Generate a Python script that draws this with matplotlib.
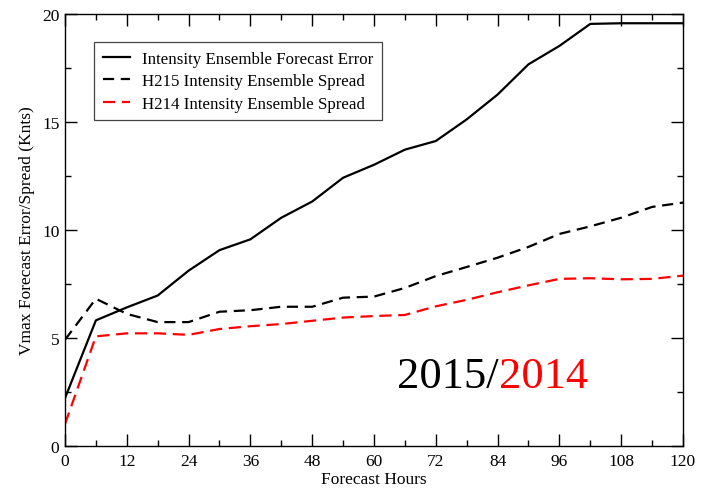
import matplotlib

matplotlib.use("Agg")
import matplotlib.pyplot as plt
from matplotlib.ticker import MultipleLocator

# forecast lead times (hours)
hours = [0, 6, 12, 18, 24, 30, 36, 42, 48, 54, 60, 66, 72, 78, 84, 90, 96, 102, 108, 114, 120]

# intensity ensemble forecast error (kt)
fcst_error = [2.2, 5.8, 6.4, 6.95, 8.1, 9.05, 9.55, 10.55, 11.3, 12.4, 13.0, 13.7, 14.1,
              15.1, 16.25, 17.65, 18.5, 19.52, 19.55, 19.55, 19.55]

# H215 ensemble spread (kt)
spread_h215 = [4.9, 6.8, 6.1, 5.72, 5.72, 6.2, 6.27, 6.43, 6.43, 6.85, 6.9, 7.3, 7.85,
               8.27, 8.7, 9.2, 9.8, 10.15, 10.55, 11.05, 11.25]

# H214 ensemble spread (kt)
spread_h214 = [1.0, 5.06, 5.2, 5.2, 5.13, 5.4, 5.53, 5.63, 5.78, 5.93, 6.0, 6.05, 6.45,
               6.75, 7.1, 7.42, 7.72, 7.75, 7.7, 7.72, 7.87]

plt.rcParams["font.family"] = ["Liberation Serif", "DejaVu Serif"]

fig = plt.figure(figsize=(7.11, 4.89), dpi=100)
ax = fig.add_axes([0.0914, 0.0865, 0.8692, 0.8838])

ax.plot(hours, fcst_error, color="black", lw=1.6, label="Intensity Ensemble Forecast Error")
ax.plot(hours, spread_h215, color="black", lw=1.6, dashes=(5, 3),
        label="H215 Intensity Ensemble Spread")
ax.plot(hours, spread_h214, color="red", lw=1.6, dashes=(5.5, 3),
        label="H214 Intensity Ensemble Spread")

ax.set_xlim(0, 120)
ax.set_ylim(0, 20)
ax.xaxis.set_major_locator(MultipleLocator(12))
ax.xaxis.set_minor_locator(MultipleLocator(6))
ax.yaxis.set_major_locator(MultipleLocator(5))
ax.yaxis.set_minor_locator(MultipleLocator(2.5))
ax.tick_params(which="both", direction="in", top=True, right=True, width=1,
               labelsize=12.5)
ax.tick_params(axis="x", pad=5)
ax.tick_params(axis="y", pad=4)
ax.tick_params(which="major", length=8.5)
ax.tick_params(which="minor", length=4.5)
for sp in ax.spines.values():
    sp.set_linewidth(1)

ax.set_xlabel("Forecast Hours", fontsize=12.5, labelpad=2)
ax.set_ylabel("Vmax Forecast Error/Spread (Knts)", fontsize=12.5, labelpad=5)

leg = ax.legend(loc="upper left", bbox_to_anchor=(0.047, 0.933), fontsize=12.2,
                frameon=True, fancybox=False, edgecolor="#444444", framealpha=1,
                handlelength=1.6, handletextpad=0.75, borderpad=0.5,
                labelspacing=0.38, borderaxespad=0)
leg.get_frame().set_linewidth(0.9)

# season label, the second year in red
yr1 = ax.text(64.5, 2.72, "2015/", fontsize=32, color="black", va="baseline")
ax.annotate("2014", xy=(1, 0), xycoords=yr1, fontsize=32, color="red", va="bottom")

fig.savefig("out.png", dpi=100)
